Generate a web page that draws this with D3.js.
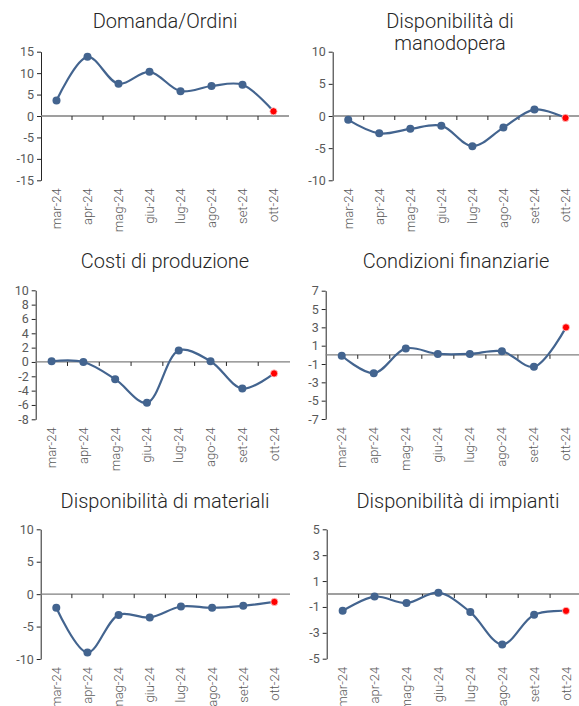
<!DOCTYPE html>
<html>
<head>
<meta charset="utf-8">
<script src="https://cdn.jsdelivr.net/npm/d3@7"></script>
<style>
body { margin: 0; background: #fff; }
svg { display: block; font-family: Roboto, "Noto Sans", sans-serif; }
</style>
</head>
<body>
<svg id="chart" width="579" height="706"></svg>
<script>
var months = ["mar-24","apr-24","mag-24","giu-24","lug-24","ago-24","set-24","ott-24"];

var domanda     = [3.6, 13.8, 7.5, 10.3, 5.8, 7.0, 7.3, 1.1];
var manodopera  = [-0.6, -2.7, -2.0, -1.5, -4.7, -1.8, 1.0, -0.3];
var costi       = [0.1, 0.0, -2.4, -5.7, 1.6, 0.1, -3.7, -1.6];
var finanziarie = [-0.1, -2.0, 0.7, 0.1, 0.1, 0.4, -1.3, 3.0];
var materiali   = [-2.1, -9.0, -3.2, -3.6, -1.9, -2.1, -1.8, -1.2];
var impianti    = [-1.3, -0.2, -0.7, 0.1, -1.4, -3.9, -1.6, -1.3];

var ticksDomanda     = [15, 10, 5, 0, -5, -10, -15];
var ticksManodopera  = [10, 5, 0, -5, -10];
var ticksCosti       = [10, 8, 6, 4, 2, 0, -2, -4, -6, -8];
var ticksFinanziarie = [7, 5, 3, 1, -1, -3, -5, -7];
var ticksMateriali   = [10, 5, 0, -5, -10];
var ticksImpianti    = [5, 3, 1, -1, -3, -5];

var titles = [["Domanda/Ordini"], ["Disponibilità di", "manodopera"], ["Costi di produzione"],
              ["Condizioni finanziarie"], ["Disponibilità di materiali"], ["Disponibilità di impianti"]];

var svg = d3.select("#chart");

// layout of each small chart (plot box + title position)
var panels = [
  {data: domanda,     ticks: ticksDomanda,     left: 41,    right: 289, top: 51.7,  bottom: 180.3, tx: 165, ty: 28},
  {data: manodopera,  ticks: ticksManodopera,  left: 332.7, right: 581, top: 51.7,  bottom: 180.3, tx: 450, ty: 28},
  {data: costi,       ticks: ticksCosti,       left: 35.7,  right: 290, top: 290.3, bottom: 419.3, tx: 165, ty: 267.5},
  {data: finanziarie, ticks: ticksFinanziarie, left: 325.7, right: 582, top: 290.7, bottom: 419,   tx: 456, ty: 267.5},
  {data: materiali,   ticks: ticksMateriali,   left: 40.7,  right: 290, top: 529.3, bottom: 659,   tx: 165, ty: 507.5},
  {data: impianti,    ticks: ticksImpianti,    left: 326.7, right: 582, top: 529.3, bottom: 658.7, tx: 458, ty: 507.5}
];

panels.forEach(function(p, k) {
    var g = svg.append("g");

    var x = d3.scaleBand().domain(months).range([p.left, p.right]);
    var y = d3.scaleLinear()
        .domain([d3.min(p.ticks), d3.max(p.ticks)])
        .range([p.bottom, p.top]);

    // title
    var t = g.append("text")
        .attr("x", p.tx)
        .attr("y", p.ty)
        .attr("text-anchor", "middle")
        .attr("font-size", 20)
        .attr("font-weight", 300)
        .attr("fill", "#262626");
    titles[k].forEach(function(line, i) {
        t.append("tspan").attr("x", p.tx).attr("dy", i == 0 ? 0 : 22).text(line);
    });

    // y axis
    var yAxis = g.append("g")
        .attr("transform", "translate(" + p.left + ",0)")
        .call(d3.axisLeft(y).tickValues(p.ticks).tickSize(4).tickSizeOuter(0).tickPadding(3)
            .tickFormat(function(d){ return String(d); }));
    yAxis.select(".domain").attr("stroke", "#262626");
    yAxis.selectAll(".tick line").attr("stroke", "#262626");
    yAxis.selectAll(".tick text").attr("fill", "#595959").attr("font-size", 12.5)
        .attr("font-family", "Roboto, sans-serif").attr("font-weight", 400);

    // zero line with ticks between categories
    g.append("line")
        .attr("x1", p.left).attr("x2", p.right)
        .attr("y1", y(0)).attr("y2", y(0))
        .attr("stroke", "#7f7f7f").attr("stroke-width", 1.3);
    g.selectAll(".xt").data(months.slice(1)).enter().append("line")
        .attr("x1", function(d){ return x(d); }).attr("x2", function(d){ return x(d); })
        .attr("y1", y(0)).attr("y2", y(0) + 4)
        .attr("stroke", "#262626");

    // category labels under the plot
    g.selectAll(".xl").data(months).enter().append("text")
        .attr("transform", function(d){
            return "translate(" + (x(d) + x.bandwidth()/2 + 4.5) + "," + (p.bottom + 8) + ") rotate(-90)";
        })
        .attr("text-anchor", "end")
        .attr("font-size", 13)
        .attr("font-weight", 300)
        .attr("fill", "#595959")
        .text(function(d){ return d; });

    var pts = p.data.map(function(v, i){ return [x(months[i]) + x.bandwidth()/2, y(v)]; });

    var line = d3.line().curve(d3.curveCatmullRom.alpha(0.5));
    g.append("path")
        .attr("d", line(pts))
        .attr("fill", "none")
        .attr("stroke", "#43648f")
        .attr("stroke-width", 2.2);

    g.selectAll(".pt").data(pts).enter().append("circle")
        .attr("cx", function(d){ return d[0]; })
        .attr("cy", function(d){ return d[1]; })
        .attr("r", function(d, i){ return i == pts.length - 1 ? 3.6 : 4; })
        .attr("fill", function(d, i){ return i == pts.length - 1 ? "#ff0000" : "#43648f"; })
        .attr("stroke", function(d, i){ return i == pts.length - 1 ? "#ffd0d0" : "none"; })
        .attr("stroke-width", 0.8);
});
</script>
</body>
</html>
